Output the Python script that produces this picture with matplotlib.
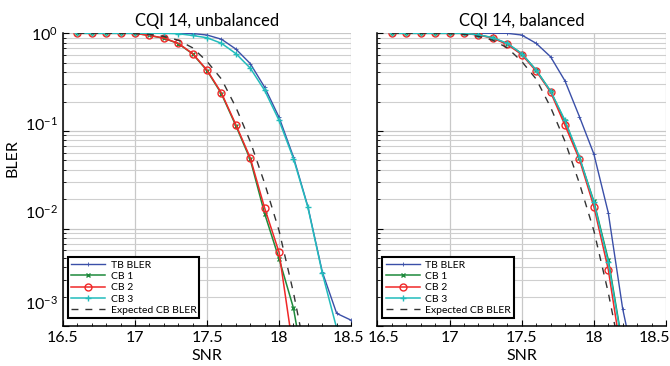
import numpy as np
import matplotlib
matplotlib.use('Agg')
import matplotlib.pyplot as plt
import matplotlib.transforms as mtransforms
from matplotlib.ticker import MultipleLocator, LogLocator, NullFormatter

plt.rcParams['font.family'] = ['Lato', 'DejaVu Sans']
plt.rcParams['mathtext.fontset'] = 'custom'
plt.rcParams['mathtext.rm'] = 'Lato'
plt.rcParams['mathtext.it'] = 'Lato'

nan = np.nan

# SNR points
snr = [16.6, 16.7, 16.8, 16.9, 17.0, 17.1, 17.2, 17.3, 17.4, 17.5,
       17.6, 17.7, 17.8, 17.9, 18.0, 18.1, 18.2, 18.3, 18.4, 18.5]
xticks = [16.5, 17, 17.5, 18, 18.5]
xtick_labels = ['16.5', '17', '17.5', '18', '18.5']
yticks = [1e-3, 1e-2, 1e-1, 1]

# CQI 14, unbalanced
tb_unbal = [1.0, 1.0, 1.0, 1.0, 1.0, 1.0, 1.0, 1.0, 0.995, 0.96,
            0.87, 0.69, 0.49, 0.28, 0.138, 0.054, 0.0168, 0.0036, 0.00135, 0.00115]
cb1_unbal = [1.0, 1.0, 1.0, 1.0, 1.0, 0.95, 0.89, 0.785, 0.615, 0.415,
             0.24, 0.113, 0.051, 0.0142, 0.0049, 0.00153, 0.00022, nan, nan, nan]
cb2_unbal = [1.0, 1.0, 1.0, 1.0, 1.0, 0.95, 0.895, 0.79, 0.62, 0.42,
             0.245, 0.116, 0.053, 0.0162, 0.0057, 0.00055, nan, nan, nan, nan]
cb3_unbal = [1.0, 1.0, 1.0, 1.0, 1.0, 1.0, 1.0, 0.99, 0.95, 0.90,
             0.79, 0.62, 0.44, 0.26, 0.128, 0.052, 0.0165, 0.0035, 0.00095, 0.0002]

# CQI 14, balanced
tb_bal = [1.0, 1.0, 1.0, 1.0, 1.0, 1.0, 1.0, 1.0, 1.0, 0.96,
          0.79, 0.575, 0.325, 0.14, 0.058, 0.0145, 0.0015, 0.0003, nan, nan]
cb1_bal = [1.0, 1.0, 1.0, 1.0, 1.0, 1.0, 0.965, 0.9, 0.78, 0.62,
           0.42, 0.255, 0.125, 0.053, 0.019, 0.0048, 0.00063, nan, nan, nan]
cb2_bal = [1.0, 1.0, 1.0, 1.0, 1.0, 1.0, 0.96, 0.89, 0.77, 0.605,
           0.41, 0.25, 0.114, 0.051, 0.0168, 0.0038, 0.00042, nan, nan, nan]
cb3_bal = [1.0, 1.0, 1.0, 1.0, 1.0, 1.0, 0.965, 0.9, 0.79, 0.62,
           0.42, 0.256, 0.128, 0.054, 0.0185, 0.0045, 0.0006, nan, nan, nan]

# expected CB BLER (same in both panels)
expected = [1.0, 1.0, 1.0, 1.0, 0.995, 0.975, 0.93, 0.85, 0.71, 0.515,
            0.34, 0.175, 0.078, 0.029, 0.0095, 0.0022, 0.0004, nan, nan, nan]

titles = ['CQI 14, unbalanced', 'CQI 14, balanced']
panels = [(tb_unbal, cb1_unbal, cb2_unbal, cb3_unbal),
          (tb_bal, cb1_bal, cb2_bal, cb3_bal)]

fig = plt.figure(figsize=(6.7, 3.66), dpi=100)
ax_left = fig.add_axes([0.094, 0.109, 0.43, 0.80])
ax_right = fig.add_axes([0.5634, 0.109, 0.4306, 0.80])

for ax, title, (tb, cb1, cb2, cb3) in zip([ax_left, ax_right], titles, panels):
    ax.plot(snr, tb, color='#3a4fa8', lw=1, marker='+', ms=3, mew=0.6, label='TB BLER')
    ax.plot(snr, cb1, color='#1e8a3c', lw=1.1, marker='x', ms=3.5, mew=1, label='CB 1')
    ax.plot(snr, cb2, color='#f02828', lw=1.1, marker='o', ms=5, mfc='none', mew=1, label='CB 2')
    ax.plot(snr, cb3, color='#22bcbc', lw=1.1, marker='+', ms=5, mew=1, label='CB 3')
    ax.plot(snr, expected, color='#333333', lw=1, dashes=(5, 5), label='Expected CB BLER')

    ax.set_yscale('log')
    ax.set_xlim(16.5, 18.5)
    ax.set_ylim(1e-3, 1)
    ax.set_xticks(xticks)
    ax.set_xticklabels(xtick_labels)
    ax.set_yticks(yticks)
    ax.xaxis.set_minor_locator(MultipleLocator(0.1))
    ax.yaxis.set_minor_locator(LogLocator(base=10, subs=np.arange(2, 10), numticks=10))
    ax.yaxis.set_minor_formatter(NullFormatter())
    ax.grid(True, which='major', color='#c8c8c8', lw=0.9)
    ax.grid(True, which='minor', axis='y', color='#cfcfcf', lw=0.8)
    ax.set_axisbelow(True)
    ax.tick_params(which='both', direction='in', labelsize=11.5, color='black')
    ax.tick_params(which='major', length=4)
    ax.tick_params(which='minor', length=2)
    for s in ['top', 'right']:
        ax.spines[s].set_visible(False)
    for s in ['left', 'bottom']:
        ax.spines[s].set_linewidth(1.1)
    ax.set_title(title, fontsize=12, pad=5)
    ax.set_xlabel('SNR', fontsize=11.5, labelpad=3)

    leg = ax.legend(loc='lower left', bbox_to_anchor=(0.017, 0.027), borderaxespad=0,
                    fontsize=7.5, handlelength=3.3, labelspacing=0.2, handletextpad=0.5,
                    fancybox=False, framealpha=1, edgecolor='black', borderpad=0.3)
    leg.get_frame().set_linewidth(1.5)

ax_left.set_ylabel('BLER', fontsize=11.5)
ax_left.yaxis.set_label_coords(-0.15, 0.573)
ax_right.tick_params(labelleft=False)


def shift(label, dx_px, dy_px):
    off = mtransforms.ScaledTranslation(dx_px / fig.dpi, dy_px / fig.dpi, fig.dpi_scale_trans)
    label.set_transform(label.get_transform() + off)


# y tick labels sit progressively higher than their gridlines, as in the source figure
for lab, up in zip(ax_left.get_yticklabels(), [24, 17, 8, 0]):
    shift(lab, 0, up)
shift(ax_left.get_xticklabels()[-1], -3, 0)
shift(ax_right.get_xticklabels()[0], 6, 0)
shift(ax_right.get_xticklabels()[-1], -12, 0)

fig.savefig('out.png', dpi=100)
